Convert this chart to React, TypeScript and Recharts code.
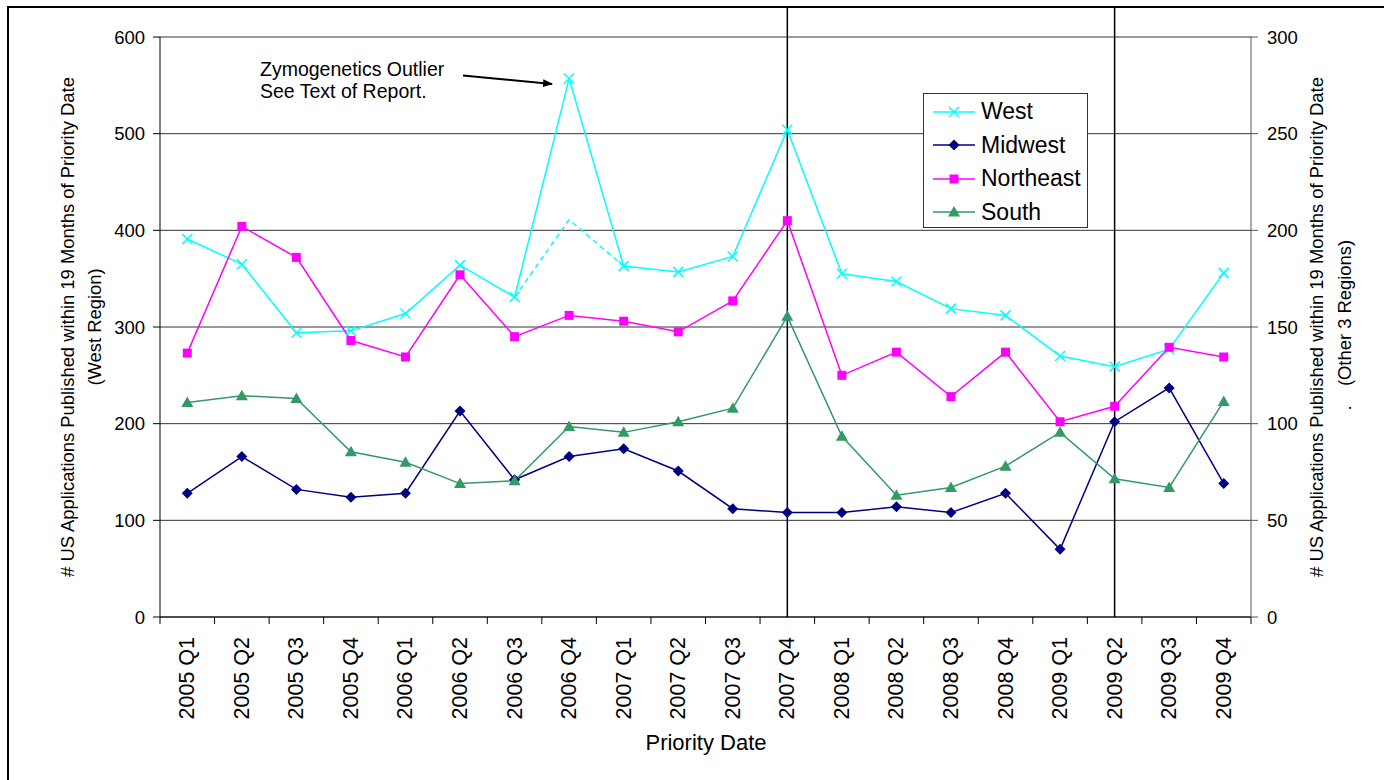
import React from 'react';
import { LineChart, Line, XAxis, YAxis, CartesianGrid, ReferenceLine, Legend } from 'recharts';

const quarters = [
  '2005 Q1', '2005 Q2', '2005 Q3', '2005 Q4',
  '2006 Q1', '2006 Q2', '2006 Q3', '2006 Q4',
  '2007 Q1', '2007 Q2', '2007 Q3', '2007 Q4',
  '2008 Q1', '2008 Q2', '2008 Q3', '2008 Q4',
  '2009 Q1', '2009 Q2', '2009 Q3', '2009 Q4',
];

// West region is on the left axis, the others on the right one
const west = [391, 365, 294, 296, 314, 364, 331, 557, 363, 357, 373, 504, 355, 347, 319, 312, 270, 259, 277, 356];
// dashed line: West without the Zymogenetics outlier
const westNoOutlier = [null, null, null, null, null, null, 331, 411, 363, null, null, null, null, null, null, null, null, null, null, null];
const midwest = [64, 83, 66, 62, 64, 106.5, 71, 83, 87, 75.5, 56, 54, 54, 57, 54, 64, 35, 101, 118.5, 69];
const northeast = [136.5, 202, 186, 143, 134.5, 177, 145, 156, 153, 147.5, 163.5, 205, 125, 137, 114, 137, 101, 109, 139.5, 134.5];
const south = [111, 114.5, 113, 85.5, 80, 69, 70.5, 98.5, 95.5, 101, 108, 155.5, 93.5, 63, 67, 78, 95.5, 71.5, 67, 111.5];

const leftTicks = [0, 100, 200, 300, 400, 500, 600];
const rightTicks = [0, 50, 100, 150, 200, 250, 300];
const markedQuarters = ['2007 Q4', '2009 Q2'];

const FONT = '"Liberation Sans", Arial, sans-serif';
const COLORS = { west: '#00FFFF', midwest: '#000080', northeast: '#FF00FF', south: '#339966' };

const data = quarters.map((q, i) => ({
  pos: i + 0.5,
  quarter: q,
  west: west[i],
  westNoOutlier: westNoOutlier[i],
  midwest: midwest[i],
  northeast: northeast[i],
  south: south[i],
}));

// tick positions: integers are the category borders, halves are the labels
const xTicks: number[] = [];
for (let i = 0; i <= quarters.length * 2; i++) xTicks.push(i / 2);

const Cross = ({ cx, cy, color }: any) => (
  <g>
    <line x1={cx - 5} y1={cy - 5} x2={cx + 5} y2={cy + 5} stroke={color} strokeWidth={1.5} />
    <line x1={cx - 5} y1={cy + 5} x2={cx + 5} y2={cy - 5} stroke={color} strokeWidth={1.5} />
  </g>
);
const Diamond = ({ cx, cy, color }: any) => (
  <polygon points={`${cx},${cy - 5.5} ${cx + 5.5},${cy} ${cx},${cy + 5.5} ${cx - 5.5},${cy}`} fill={color} />
);
const Square = ({ cx, cy, color }: any) => (
  <rect x={cx - 4.5} y={cy - 4.5} width={9} height={9} fill={color} />
);
const Triangle = ({ cx, cy, color }: any) => (
  <polygon points={`${cx},${cy - 6} ${cx + 6},${cy + 4.5} ${cx - 6},${cy + 4.5}`} fill={color} />
);

const makeDot = (Shape: any, color: string) => (props: any) => {
  const { cx, cy, index } = props;
  if (cx == null || cy == null || props.value == null) return <g key={index} />;
  return <Shape key={index} cx={cx} cy={cy} color={color} />;
};

const QuarterTick = (props: any) => {
  const { x, y, payload } = props;
  const v = payload.value;
  if (Number.isInteger(v)) {
    return <line x1={x} y1={y} x2={x} y2={y + 7} stroke="#000" strokeWidth={1} />;
  }
  const label = quarters[Math.floor(v)];
  const ty = y + 20;
  return (
    <text
      x={x}
      y={ty}
      transform={`rotate(-90 ${x} ${ty})`}
      textAnchor="end"
      dominantBaseline="central"
      fill="#000"
      fontSize={21.5}
      fontFamily={FONT}
    >
      {label}
    </text>
  );
};

const legendItems = [
  { name: 'West', color: COLORS.west, Shape: Cross },
  { name: 'Midwest', color: COLORS.midwest, Shape: Diamond },
  { name: 'Northeast', color: COLORS.northeast, Shape: Square },
  { name: 'South', color: COLORS.south, Shape: Triangle },
];

const renderLegend = () => (
  <div
    style={{
      width: 163,
      height: 132,
      border: '1px solid #333',
      background: '#fff',
      paddingTop: 1,
      boxSizing: 'content-box',
    }}
  >
    {legendItems.map(({ name, color, Shape }) => (
      <div key={name} style={{ display: 'flex', alignItems: 'center', height: 33.5 }}>
        <svg width={42} height={14} style={{ marginLeft: 9, marginRight: 6 }}>
          <line x1={0} y1={7} x2={42} y2={7} stroke={color} strokeWidth={1.5} />
          <Shape cx={21} cy={7} color={color} />
        </svg>
        <span style={{ fontFamily: FONT, fontSize: 23, color: '#000', lineHeight: 1 }}>{name}</span>
      </div>
    ))}
  </div>
);

const App = () => {
  const tickStyle = { fill: '#000', fontSize: 18.5, fontFamily: FONT };
  return (
    <div style={{ position: 'relative', width: 1384, height: 780, overflow: 'hidden', background: '#fff' }}>
      <style>{'html, body { margin: 0; padding: 0; overflow: hidden; }'}</style>
      <LineChart
        width={1384}
        height={780}
        data={data}
        margin={{ top: 37, right: 73, bottom: 43, left: 100 }}
      >
        <CartesianGrid yAxisId="left" vertical={false} stroke="#333" strokeWidth={1} />
        <XAxis
          dataKey="pos"
          type="number"
          domain={[0, quarters.length]}
          ticks={xTicks}
          interval={0}
          height={120}
          tickSize={0}
          tickMargin={0}
          tickLine={false}
          tick={<QuarterTick />}
          stroke="#000"
          allowDecimals
        />
        <YAxis
          yAxisId="left"
          domain={[0, 600]}
          ticks={leftTicks}
          width={60}
          tickSize={7}
          tickMargin={8}
          stroke="#000"
          tick={tickStyle}
          interval={0}
        />
        <YAxis
          yAxisId="right"
          orientation="right"
          domain={[0, 300]}
          ticks={rightTicks}
          width={60}
          tickSize={7}
          tickMargin={9}
          stroke="#555"
          tick={tickStyle}
          interval={0}
        />
        {markedQuarters.map((q) => {
          const xv = quarters.indexOf(q) + 0.5;
          return (
            <ReferenceLine
              key={q}
              yAxisId="left"
              segment={[{ x: xv, y: 0 }, { x: xv, y: 631 }]}
              stroke="#000"
              strokeWidth={1.5}
              ifOverflow="visible"
            />
          );
        })}
        <Line
          yAxisId="left"
          dataKey="west"
          name="West"
          stroke={COLORS.west}
          strokeWidth={1.5}
          dot={makeDot(Cross, COLORS.west)}
          activeDot={false}
          isAnimationActive={false}
        />
        <Line
          yAxisId="left"
          dataKey="westNoOutlier"
          legendType="none"
          stroke={COLORS.west}
          strokeWidth={1.5}
          strokeDasharray="5 4"
          dot={false}
          activeDot={false}
          isAnimationActive={false}
        />
        <Line
          yAxisId="right"
          dataKey="midwest"
          name="Midwest"
          stroke={COLORS.midwest}
          strokeWidth={1.5}
          dot={makeDot(Diamond, COLORS.midwest)}
          activeDot={false}
          isAnimationActive={false}
        />
        <Line
          yAxisId="right"
          dataKey="northeast"
          name="Northeast"
          stroke={COLORS.northeast}
          strokeWidth={1.5}
          dot={makeDot(Square, COLORS.northeast)}
          activeDot={false}
          isAnimationActive={false}
        />
        <Line
          yAxisId="right"
          dataKey="south"
          name="South"
          stroke={COLORS.south}
          strokeWidth={1.5}
          dot={makeDot(Triangle, COLORS.south)}
          activeDot={false}
          isAnimationActive={false}
        />
        <Legend
          layout="vertical"
          align="center"
          verticalAlign="middle"
          content={renderLegend}
          wrapperStyle={{ left: 923, top: 93, width: 'auto', height: 'auto' }}
        />
      </LineChart>
      <svg
        width={1384}
        height={780}
        style={{ position: 'absolute', left: 0, top: 0, pointerEvents: 'none' }}
        fontFamily={FONT}
      >
        <defs>
          <marker id="arrowHead" markerWidth="10" markerHeight="8" refX="9" refY="4" orient="auto" markerUnits="userSpaceOnUse">
            <path d="M0,0 L10,4 L0,8 Z" fill="#000" />
          </marker>
        </defs>

        {/* chart frame: only its top and left edges fall inside the picture */}
        <rect x={8} y={7} width={1400} height={800} fill="none" stroke="#000" strokeWidth={2} />

        {/* outlier note */}
        <text x={260} y={76} fontSize={19.5} fill="#000">Zymogenetics Outlier</text>
        <text x={260} y={97.5} fontSize={19.5} fill="#000">See Text of Report.</text>
        <line x1={463} y1={75.5} x2={552} y2={84} stroke="#000" strokeWidth={2} markerEnd="url(#arrowHead)" />

        {/* axis titles */}
        <text x={67} y={327} transform="rotate(-90 67 327)" textAnchor="middle" dominantBaseline="central" fontSize={18.4} fill="#000">
          # US Applications Published within 19 Months of Priority Date
        </text>
        <text x={94} y={327} transform="rotate(-90 94 327)" textAnchor="middle" dominantBaseline="central" fontSize={18.4} fill="#000">
          (West Region)
        </text>
        <text x={1316} y={327} transform="rotate(-90 1316 327)" textAnchor="middle" dominantBaseline="central" fontSize={18.4} fill="#000">
          # US Applications Published within 19 Months of Priority Date
        </text>
        <text x={1344} y={313} transform="rotate(-90 1344 313)" textAnchor="middle" dominantBaseline="central" fontSize={18.4} fill="#000">
          (Other 3 Regions)
        </text>
        <text x={1344} y={408} transform="rotate(-90 1344 408)" textAnchor="middle" dominantBaseline="central" fontSize={18.4} fill="#000">
          .
        </text>
        <text x={706} y={750} textAnchor="middle" fontSize={22} fill="#000">
          Priority Date
        </text>
      </svg>
    </div>
  );
};

export default App;
